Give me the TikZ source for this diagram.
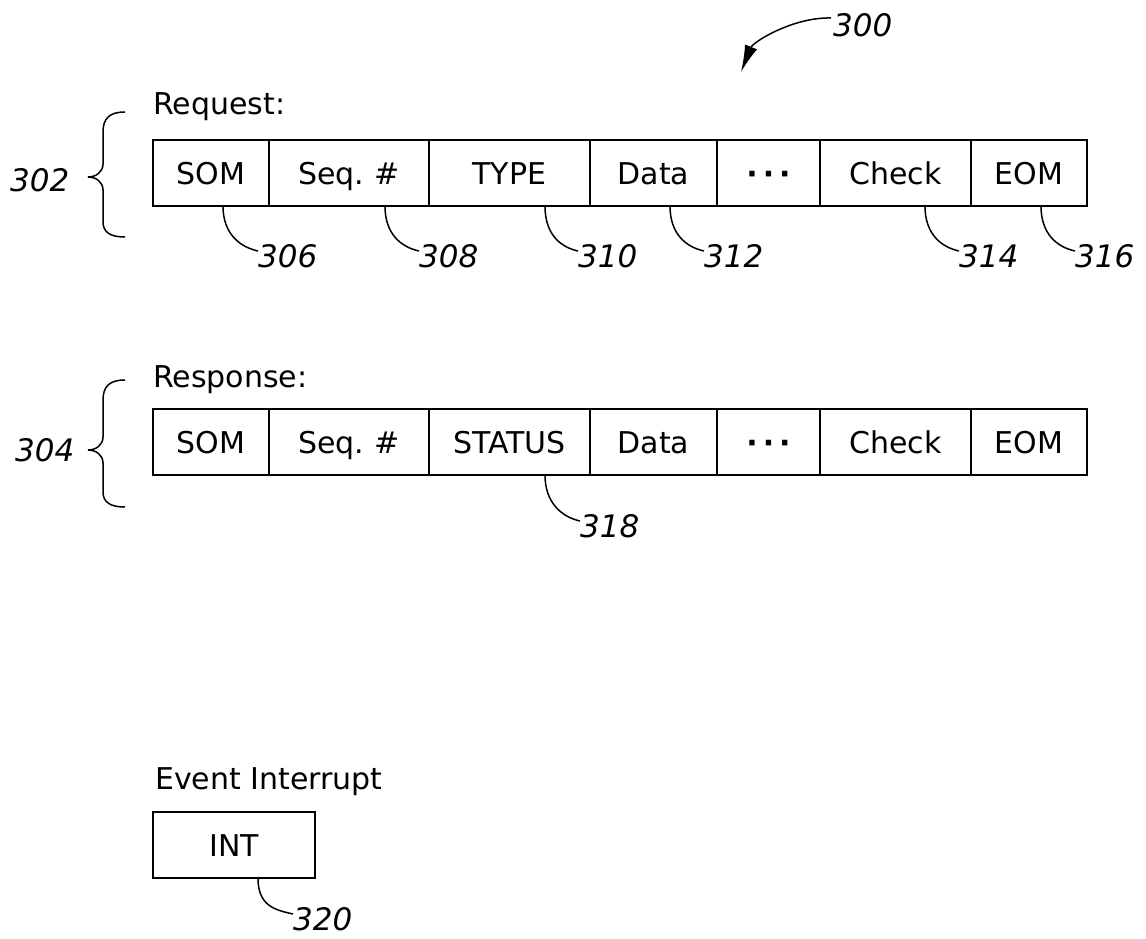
\documentclass[tikz,border=0pt]{standalone}
\usepackage{fontspec}
\setmainfont{DejaVu Sans}
\usetikzlibrary{arrows.meta,calc}
\begin{document}
\begin{tikzpicture}[x=1pt,y=-1pt,
  cell/.style={draw, line width=2.5pt, minimum height=66pt, inner sep=0pt, outer sep=0pt, anchor=west, text height=22pt, text depth=0pt, font=\fontsize{30}{36}\selectfont},
  ttl/.style={anchor=west, inner sep=0pt, font=\fontsize{30}{36}\selectfont},
  refnum/.style={anchor=west, inner sep=0pt, font=\fontsize{31}{36}\selectfont\itshape},
  lead/.style={line width=1.5pt},
  bracepath/.style={line width=1.5pt}]
\useasboundingbox (0,0) rectangle (1146,939);

% titles
\node[ttl] (treq) at (153,107) {Request:};
\node[ttl] (tres) at (153,380) {Response:};
\node[ttl] (tint) at (155,782) {Event Interrupt};

% request row
\node[cell,minimum width=116pt] (a1) at (153,173) {SOM};
\node[cell,minimum width=160pt] (a2) at (269,173) {Seq.\hspace{10pt}\#};
\node[cell,minimum width=161pt] (a3) at (429,173) {TYPE};
\node[cell,minimum width=127pt] (a4) at (590,173) {Data};
\node[cell,minimum width=103pt] (a5) at (717,173) {\textbf{·\,·\,·}};
\node[cell,minimum width=151pt] (a6) at (820,173) {Check};
\node[cell,minimum width=116pt] (a7) at (971,173) {EOM};

% response row
\node[cell,minimum width=116pt] (b1) at (153,442) {SOM};
\node[cell,minimum width=160pt] (b2) at (269,442) {Seq.\hspace{10pt}\#};
\node[cell,minimum width=161pt] (b3) at (429,442) {STATUS};
\node[cell,minimum width=127pt] (b4) at (590,442) {Data};
\node[cell,minimum width=103pt] (b5) at (717,442) {\textbf{·\,·\,·}};
\node[cell,minimum width=151pt] (b6) at (820,442) {Check};
\node[cell,minimum width=116pt] (b7) at (971,442) {EOM};

% interrupt
\node[cell,minimum width=162pt] (int) at (153,845) {INT};

% reference numerals
\node[refnum] (l300) at (833,25) {300};
\node[refnum] (l302) at (10,180) {302};
\node[refnum] (l304) at (15,450) {304};
\node[refnum] (l306) at (258,256) {306};
\node[refnum] (l308) at (419,256) {308};
\node[refnum] (l310) at (578,256) {310};
\node[refnum] (l312) at (704,256) {312};
\node[refnum] (l314) at (959,256) {314};
\node[refnum] (l316) at (1075,256) {316};
\node[refnum] (l318) at (580,526) {318};
\node[refnum] (l320) at (293,919) {320};

% arrow 300
\coordinate (tip300) at (741,72);
\draw[lead,-{Latex[length=27pt,width=13pt]}] ($(l300.west)+(-2,-7)$) .. controls +(-38,-1) and +(12,-30) .. (tip300);

% leaders
\draw[lead] ($(a1.south west)+(70,0)$) .. controls +(0,28) and +(-18,-4) .. ($(l306.west)+(0,-5)$);
\draw[lead] ($(a2.south west)+(116,0)$) .. controls +(0,28) and +(-18,-4) .. ($(l308.west)+(0,-5)$);
\draw[lead] ($(a3.south west)+(116,0)$) .. controls +(0,28) and +(-18,-4) .. ($(l310.west)+(0,-5)$);
\draw[lead] ($(a4.south west)+(80,0)$) .. controls +(0,28) and +(-18,-4) .. ($(l312.west)+(0,-5)$);
\draw[lead] ($(a6.south west)+(105,0)$) .. controls +(0,28) and +(-18,-4) .. ($(l314.west)+(0,-5)$);
\draw[lead] ($(a7.south west)+(70,0)$) .. controls +(0,28) and +(-18,-4) .. ($(l316.west)+(0,-5)$);
\draw[lead] ($(b3.south west)+(116,0)$) .. controls +(0,28) and +(-18,-4) .. ($(l318.west)+(0,-5)$);
\draw[lead] ($(int.south west)+(105,0)$) .. controls +(0,28) and +(-18,-4) .. ($(l320.west)+(0,-5)$);

% braces
\draw[bracepath] (125,112) .. controls (110,112) and (103,118) .. (103,132) -- (103,164)
  .. controls (103,172) and (96,177) .. (88,177)
  .. controls (96,177) and (103,182) .. (103,190) -- (103,222)
  .. controls (103,232) and (110,237) .. (125,237);
\draw[bracepath] (125,380) .. controls (110,380) and (103,386) .. (103,400) -- (103,437)
  .. controls (103,445) and (96,450) .. (88,450)
  .. controls (96,450) and (103,455) .. (103,463) -- (103,492)
  .. controls (103,502) and (110,507) .. (125,507);
\end{tikzpicture}
\end{document}
